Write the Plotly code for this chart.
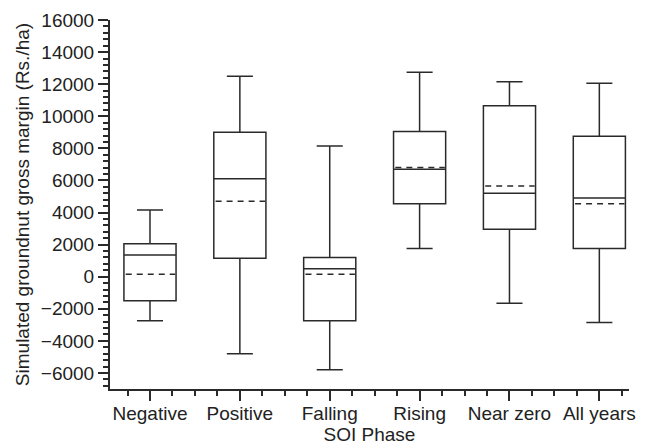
import plotly.graph_objects as go

categories = ["Negative", "Positive", "Falling", "Rising", "Near zero", "All years"]
lower_whisker = [-2750, -4800, -5800, 1750, -1650, -2850]
q1_values = [-1500, 1150, -2750, 4550, 2950, 1750]
medians = [1350, 6100, 500, 6700, 5200, 4900]
means = [150, 4700, 150, 6800, 5650, 4550]
q3_values = [2050, 9000, 1200, 9050, 10650, 8750]
upper_whisker = [4150, 12500, 8150, 12750, 12150, 12050]
y_ticks = list(range(-6000, 16001, 2000))
y_ticktext = [f"{v:d}".replace("-", "\u2212") for v in y_ticks]

positions = list(range(len(categories)))
BOX_W = 0.58
FONT = "Liberation Sans, Arial, sans-serif"
INK = "#2a2a2a"

fig = go.Figure()
fig.add_trace(go.Box(
    x=positions,
    q1=q1_values, median=medians, q3=q3_values,
    lowerfence=lower_whisker, upperfence=upper_whisker,
    boxpoints=False,
    width=BOX_W, whiskerwidth=0.5,
    line=dict(color=INK, width=1.5),
    fillcolor="rgba(0,0,0,0)",
    showlegend=False, hoverinfo="skip",
))

# dashed mean lines across each box
for p, m in zip(positions, means):
    fig.add_trace(go.Scatter(
        x=[p - BOX_W / 2 + 0.02, p + BOX_W / 2 - 0.01], y=[m, m], mode="lines",
        line=dict(color=INK, width=1.5, dash="6px,5px"),
        showlegend=False, hoverinfo="skip",
    ))

# page body has an 8px margin, so the figure is sized 640x440
fig.update_layout(
    width=640, height=440,
    margin=dict(l=102, r=19, t=12, b=59),
    paper_bgcolor="white", plot_bgcolor="white",
    font=dict(family=FONT, size=19, color="#222"),
    xaxis=dict(
        range=[-0.445, 5.33], tickmode="array", tickvals=positions, ticktext=categories,
        showgrid=False, zeroline=False, showline=True, linecolor=INK, linewidth=2,
        ticks="outside", ticklen=10, tickwidth=1.5, tickcolor=INK, automargin=False,
        ticklabelstandoff=-4,
        minor=dict(tickmode="linear", tick0=0, dtick=0.25, ticks="outside", ticklen=5,
                   tickwidth=1.5, tickcolor=INK, showgrid=False),
        title=dict(text="SOI Phase", standoff=0, font=dict(size=19)),
        tickfont=dict(size=19),
    ),
    yaxis=dict(
        range=[-7000, 16000], tickmode="array", tickvals=y_ticks, ticktext=y_ticktext,
        showgrid=False, zeroline=False, showline=True, linecolor=INK, linewidth=2,
        ticks="outside", ticklen=10, tickwidth=1.5, tickcolor=INK, automargin=False,
        minor=dict(tickmode="linear", tick0=0, dtick=400, ticks="outside", ticklen=5,
                   tickwidth=1.5, tickcolor=INK, showgrid=False),
        title=dict(text="Simulated groundnut gross margin (Rs./ha)", standoff=6, font=dict(size=19)),
        tickfont=dict(size=19),
    ),
)

fig.write_html("out.html")
